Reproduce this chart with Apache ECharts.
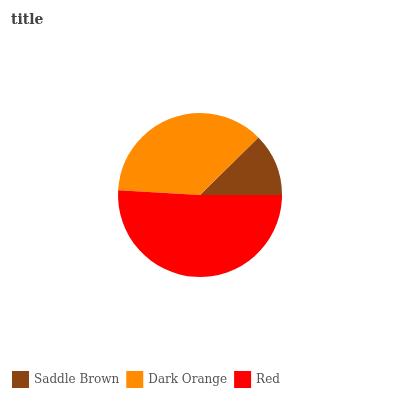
<!DOCTYPE html>
<html>
<head>
<meta charset="utf-8">
<script src="https://cdn.jsdelivr.net/npm/echarts@6/dist/echarts.min.js"></script>
<style>
  html, body { margin: 0; padding: 0; background: #fff; }
  #chart { width: 400px; height: 400px; }
</style>
</head>
<body>
<div id="chart"></div>
<script>
  const names = ['Saddle Brown', 'Dark Orange', 'Red'];
  const values = [12.4, 36.7, 50.9];
  const colors = ['#8B4513', '#FF8C00', '#FF0000'];

  const chart = echarts.init(document.getElementById('chart'));

  const option = {
    animation: false,
    title: {
      text: 'title',
      left: 6,
      top: 8,
      textStyle: {
        fontFamily: 'DejaVu Serif',
        fontSize: 14,
        fontWeight: 'bold',
        color: '#444'
      }
    },
    legend: {
      data: names,
      left: 7,
      bottom: 7,
      itemWidth: 17,
      itemHeight: 17,
      itemGap: 7,
      icon: 'rect',
      textStyle: {
        fontFamily: 'DejaVu Serif',
        fontSize: 12,
        color: '#555'
      }
    },
    series: [
      {
        type: 'pie',
        center: [200, 195],
        radius: 82,
        startAngle: 0,
        clockwise: false,
        label: { show: false },
        labelLine: { show: false },
        itemStyle: { borderWidth: 0 },
        data: names.map((n, i) => ({
          name: n,
          value: values[i],
          itemStyle: { color: colors[i] }
        }))
      }
    ]
  };

  chart.setOption(option);
</script>
</body>
</html>
